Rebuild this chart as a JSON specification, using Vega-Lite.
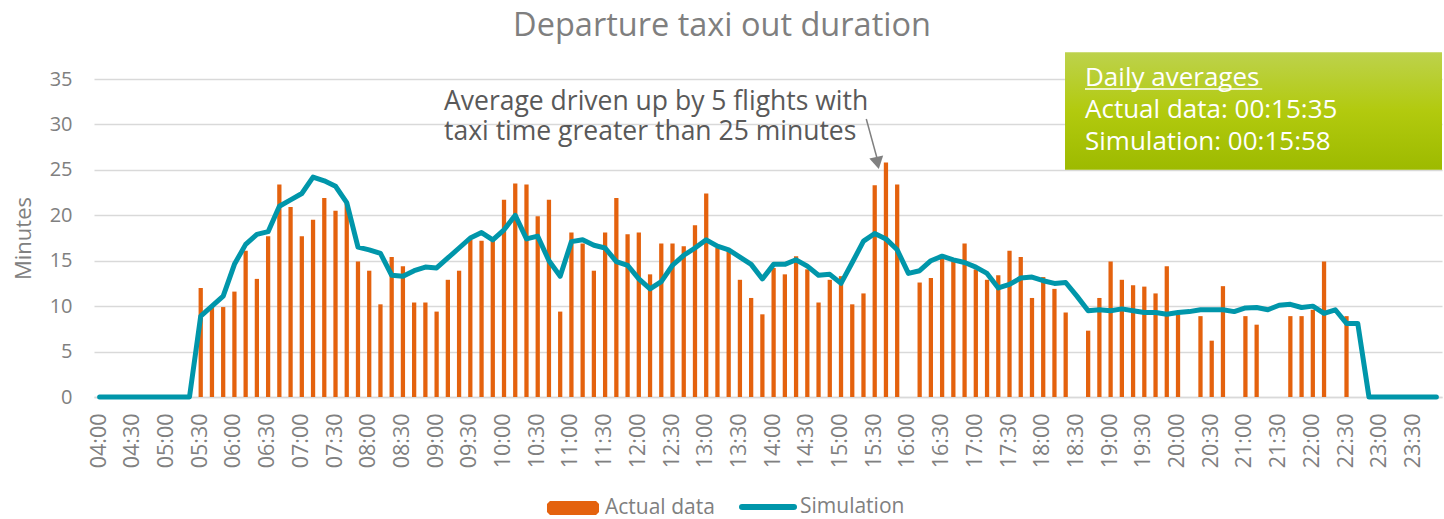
{
  "$schema": "https://vega.github.io/schema/vega-lite/v6.json",
  "width": 1348,
  "height": 318,
  "autosize": "none",
  "padding": {"left": 94, "top": 79, "right": 2, "bottom": 122},
  "background": "white",
  "title": {
    "text": "Departure taxi out duration",
    "fontSize": 32.5,
    "fontWeight": "normal",
    "color": "#7F7F7F",
    "anchor": "middle",
    "dx": -46,
    "offset": 10
  },
  "datasets": {
    "main": [
      {"time": "04:00", "actual": null, "sim": 0},
      {"time": "04:10", "actual": null, "sim": 0},
      {"time": "04:20", "actual": null, "sim": 0},
      {"time": "04:30", "actual": null, "sim": 0},
      {"time": "04:40", "actual": null, "sim": 0},
      {"time": "04:50", "actual": null, "sim": 0},
      {"time": "05:00", "actual": null, "sim": 0},
      {"time": "05:10", "actual": null, "sim": 0},
      {"time": "05:20", "actual": null, "sim": 0},
      {"time": "05:30", "actual": 12, "sim": 8.9},
      {"time": "05:40", "actual": 9.9, "sim": 10.0},
      {"time": "05:50", "actual": 9.9, "sim": 11.1},
      {"time": "06:00", "actual": 11.6, "sim": 14.6},
      {"time": "06:10", "actual": 16.1, "sim": 16.8},
      {"time": "06:20", "actual": 13.0, "sim": 17.9},
      {"time": "06:30", "actual": 17.7, "sim": 18.2},
      {"time": "06:40", "actual": 23.4, "sim": 21.0},
      {"time": "06:50", "actual": 20.9, "sim": 21.7},
      {"time": "07:00", "actual": 17.7, "sim": 22.4},
      {"time": "07:10", "actual": 19.5, "sim": 24.2},
      {"time": "07:20", "actual": 21.9, "sim": 23.8},
      {"time": "07:30", "actual": 20.5, "sim": 23.2},
      {"time": "07:40", "actual": 21.5, "sim": 21.4},
      {"time": "07:50", "actual": 14.9, "sim": 16.5},
      {"time": "08:00", "actual": 13.9, "sim": 16.2},
      {"time": "08:10", "actual": 10.2, "sim": 15.8},
      {"time": "08:20", "actual": 15.4, "sim": 13.4},
      {"time": "08:30", "actual": 14.4, "sim": 13.3},
      {"time": "08:40", "actual": 10.4, "sim": 13.9},
      {"time": "08:50", "actual": 10.4, "sim": 14.3},
      {"time": "09:00", "actual": 9.4, "sim": 14.2},
      {"time": "09:10", "actual": 12.9, "sim": 15.3},
      {"time": "09:20", "actual": 13.9, "sim": 16.4},
      {"time": "09:30", "actual": 17.3, "sim": 17.5},
      {"time": "09:40", "actual": 17.2, "sim": 18.1},
      {"time": "09:50", "actual": 17.3, "sim": 17.3},
      {"time": "10:00", "actual": 21.7, "sim": 18.4},
      {"time": "10:10", "actual": 23.5, "sim": 20.0},
      {"time": "10:20", "actual": 23.4, "sim": 17.4},
      {"time": "10:30", "actual": 19.9, "sim": 17.7},
      {"time": "10:40", "actual": 21.7, "sim": 15.0},
      {"time": "10:50", "actual": 9.4, "sim": 13.3},
      {"time": "11:00", "actual": 18.1, "sim": 17.1},
      {"time": "11:10", "actual": 16.9, "sim": 17.3},
      {"time": "11:20", "actual": 13.9, "sim": 16.7},
      {"time": "11:30", "actual": 18.1, "sim": 16.4},
      {"time": "11:40", "actual": 21.9, "sim": 14.9},
      {"time": "11:50", "actual": 17.9, "sim": 14.5},
      {"time": "12:00", "actual": 18.1, "sim": 13.0},
      {"time": "12:10", "actual": 13.5, "sim": 11.9},
      {"time": "12:20", "actual": 16.9, "sim": 12.7},
      {"time": "12:30", "actual": 16.9, "sim": 14.5},
      {"time": "12:40", "actual": 16.6, "sim": 15.6},
      {"time": "12:50", "actual": 18.9, "sim": 16.4},
      {"time": "13:00", "actual": 22.4, "sim": 17.3},
      {"time": "13:10", "actual": 16.4, "sim": 16.6},
      {"time": "13:20", "actual": 16.1, "sim": 16.2},
      {"time": "13:30", "actual": 12.9, "sim": 15.4},
      {"time": "13:40", "actual": 10.9, "sim": 14.6},
      {"time": "13:50", "actual": 9.1, "sim": 13.0},
      {"time": "14:00", "actual": 14.2, "sim": 14.6},
      {"time": "14:10", "actual": 13.5, "sim": 14.6},
      {"time": "14:20", "actual": 15.5, "sim": 15.1},
      {"time": "14:30", "actual": 14.05, "sim": 14.4},
      {"time": "14:40", "actual": 10.4, "sim": 13.4},
      {"time": "14:50", "actual": 12.9, "sim": 13.5},
      {"time": "15:00", "actual": 13.3, "sim": 12.5},
      {"time": "15:10", "actual": 10.2, "sim": 14.8},
      {"time": "15:20", "actual": 11.4, "sim": 17.15},
      {"time": "15:30", "actual": 23.3, "sim": 18.0},
      {"time": "15:40", "actual": 25.8, "sim": 17.4},
      {"time": "15:50", "actual": 23.4, "sim": 16.2},
      {"time": "16:00", "actual": null, "sim": 13.6},
      {"time": "16:10", "actual": 12.6, "sim": 13.9},
      {"time": "16:20", "actual": 13.1, "sim": 15.0},
      {"time": "16:30", "actual": 15.5, "sim": 15.5},
      {"time": "16:40", "actual": 15.0, "sim": 15.1},
      {"time": "16:50", "actual": 16.9, "sim": 14.8},
      {"time": "17:00", "actual": 14.05, "sim": 14.3},
      {"time": "17:10", "actual": 12.9, "sim": 13.6},
      {"time": "17:20", "actual": 13.4, "sim": 12.0},
      {"time": "17:30", "actual": 16.1, "sim": 12.4},
      {"time": "17:40", "actual": 15.4, "sim": 13.1},
      {"time": "17:50", "actual": 10.9, "sim": 13.2},
      {"time": "18:00", "actual": 13.2, "sim": 12.8},
      {"time": "18:10", "actual": 11.9, "sim": 12.5},
      {"time": "18:20", "actual": 9.3, "sim": 12.6},
      {"time": "18:30", "actual": null, "sim": 11.1},
      {"time": "18:40", "actual": 7.3, "sim": 9.5},
      {"time": "18:50", "actual": 10.9, "sim": 9.6},
      {"time": "19:00", "actual": 14.9, "sim": 9.5},
      {"time": "19:10", "actual": 12.9, "sim": 9.7},
      {"time": "19:20", "actual": 12.3, "sim": 9.5},
      {"time": "19:30", "actual": 12.15, "sim": 9.3},
      {"time": "19:40", "actual": 11.4, "sim": 9.3},
      {"time": "19:50", "actual": 14.4, "sim": 9.1},
      {"time": "20:00", "actual": 9.1, "sim": 9.3},
      {"time": "20:10", "actual": null, "sim": 9.4},
      {"time": "20:20", "actual": 8.9, "sim": 9.6},
      {"time": "20:30", "actual": 6.2, "sim": 9.6},
      {"time": "20:40", "actual": 12.2, "sim": 9.6},
      {"time": "20:50", "actual": null, "sim": 9.4},
      {"time": "21:00", "actual": 8.9, "sim": 9.8},
      {"time": "21:10", "actual": 7.96, "sim": 9.85},
      {"time": "21:20", "actual": null, "sim": 9.6},
      {"time": "21:30", "actual": null, "sim": 10.1},
      {"time": "21:40", "actual": 8.9, "sim": 10.2},
      {"time": "21:50", "actual": 8.9, "sim": 9.85},
      {"time": "22:00", "actual": 9.6, "sim": 10.0},
      {"time": "22:10", "actual": 14.9, "sim": 9.2},
      {"time": "22:20", "actual": null, "sim": 9.6},
      {"time": "22:30", "actual": 8.9, "sim": 8.1},
      {"time": "22:40", "actual": null, "sim": 8.1},
      {"time": "22:50", "actual": null, "sim": 0},
      {"time": "23:00", "actual": null, "sim": 0},
      {"time": "23:10", "actual": null, "sim": 0},
      {"time": "23:20", "actual": null, "sim": 0},
      {"time": "23:30", "actual": null, "sim": 0},
      {"time": "23:40", "actual": null, "sim": 0},
      {"time": "23:50", "actual": null, "sim": 0}
    ],
    "box": [{"x0": "18:20", "x1": "23:50", "y0": 37.95, "y1": 25.0}],
    "boxText": [
      {"t": "18:40", "v": 35.11, "label": "Daily averages"},
      {"t": "18:40", "v": 31.59, "label": "Actual data: 00:15:35"},
      {"t": "18:40", "v": 28.07, "label": "Simulation: 00:15:58"}
    ],
    "underline": [{"x0": "18:40", "x1": "21:20", "v": 33.9}],
    "note": [
      {"t": "09:10", "v": 32.5, "label": "Average driven up by 5 flights with"},
      {"t": "09:10", "v": 29.2, "label": "taxi time greater than 25 minutes"}
    ],
    "arrow": [{"x0": "15:20", "x1": "15:30", "v0": 30.6, "v1": 26.3}],
    "arrowHead": [{"t": "15:30", "v": 25.75}]
  },
  "layer": [
    {
      "data": {"name": "main"},
      "mark": {"type": "bar", "width": {"band": 0.38}, "color": "#E4620E"},
      "encoding": {
        "x": {
          "field": "time",
          "type": "ordinal",
          "scale": {"paddingInner": 0, "paddingOuter": 0},
          "axis": {
            "title": null,
            "labelAngle": 270,
            "labelExpr": "(slice(datum.value,3)=='00' || slice(datum.value,3)=='30') ? datum.value : ''",
            "labelOverlap": false,
            "labelPadding": 16,
            "labelFontSize": 21.5,
            "labelColor": "#808080",
            "ticks": false,
            "domain": true,
            "domainColor": "#D9D9D9",
            "domainWidth": 1.5,
            "grid": false
          }
        },
        "y": {
          "field": "actual",
          "type": "quantitative",
          "title": "Minutes",
          "scale": {"domain": [0, 35], "nice": false},
          "axis": {
            "values": [0, 5, 10, 15, 20, 25, 30, 35],
            "labelFontSize": 20,
            "labelColor": "#808080",
            "labelPadding": 22,
            "titleFontSize": 22,
            "titleColor": "#808080",
            "titleFontWeight": "normal",
            "titlePadding": 14,
            "ticks": false,
            "domain": false,
            "grid": true,
            "gridColor": "#D9D9D9",
            "gridWidth": 1.4
          }
        },
        "color": {
          "datum": "Actual data",
          "scale": {"domain": ["Actual data", "Simulation"], "range": ["#E4620E", "#0096AA"]},
          "legend": {
            "title": null,
            "orient": "none",
            "direction": "horizontal",
            "legendX": 450,
            "legendY": 402,
            "symbolSize": 2704,
            "symbolStrokeWidth": 6,
            "labelFontSize": 21,
            "labelColor": "#808080",
            "labelOffset": 3,
            "columnPadding": 24,
            "encode": {
              "symbols": {
                "update": {
                  "shape": {"signal": "datum.value === 'Simulation' ? 'M-1,0H1' : 'M-0.885,-0.154H0.885V0.154H-0.885Z'"},
                  "fill": {"signal": "datum.value === 'Simulation' ? 'transparent' : '#E4620E'"},
                  "stroke": {"signal": "datum.value === 'Simulation' ? '#0096AA' : '#E4620E'"},
                  "strokeWidth": {"value": 6},
                  "strokeCap": {"signal": "datum.value === 'Simulation' ? 'round' : 'square'"},
                  "strokeJoin": {"value": "bevel"},
                  "opacity": {"value": 1},
                  "y": {"signal": "datum.value === 'Simulation' ? 25 : 27"}
                }
              },
              "labels": {
                "update": {
                  "y": {"signal": "datum.value === 'Simulation' ? 25 : 27"},
                  "baseline": {"value": "middle"}
                }
              }
            }
          }
        }
      }
    },
    {
      "data": {"name": "main"},
      "mark": {"type": "line", "strokeWidth": 5, "strokeJoin": "round", "strokeCap": "round"},
      "encoding": {
        "x": {"field": "time", "type": "ordinal"},
        "y": {"field": "sim", "type": "quantitative", "title": "Minutes"},
        "color": {"datum": "Simulation"}
      }
    },
    {
      "data": {"name": "box"},
      "mark": {
        "type": "rect",
        "color": {
          "gradient": "linear",
          "x1": 0, "y1": 0, "x2": 0, "y2": 1,
          "stops": [
            {"offset": 0, "color": "#BDD24C"},
            {"offset": 0.5, "color": "#B2CA0E"},
            {"offset": 1, "color": "#9DBA00"}
          ]
        }
      },
      "encoding": {
        "x": {"field": "x0", "type": "ordinal", "bandPosition": 0.44},
        "x2": {"field": "x1", "bandPosition": 1},
        "y": {"field": "y0", "type": "quantitative", "title": "Minutes"},
        "y2": {"field": "y1"}
      }
    },
    {
      "data": {"name": "boxText"},
      "mark": {"type": "text", "align": "left", "baseline": "middle", "fontSize": 26, "color": "white"},
      "encoding": {
        "x": {"field": "t", "type": "ordinal", "bandPosition": 0.22},
        "y": {"field": "v", "type": "quantitative", "title": "Minutes"},
        "text": {"field": "label"}
      }
    },
    {
      "data": {"name": "underline"},
      "mark": {"type": "rule", "color": "white", "strokeWidth": 1.5},
      "encoding": {
        "x": {"field": "x0", "type": "ordinal", "bandPosition": 0.22},
        "x2": {"field": "x1", "bandPosition": 0},
        "y": {"field": "v", "type": "quantitative", "title": "Minutes"}
      }
    },
    {
      "data": {"name": "note"},
      "mark": {"type": "text", "align": "left", "baseline": "middle", "fontSize": 26.5, "color": "#595959"},
      "encoding": {
        "x": {"field": "t", "type": "ordinal", "bandPosition": 0.16},
        "y": {"field": "v", "type": "quantitative", "title": "Minutes"},
        "text": {"field": "label"}
      }
    },
    {
      "data": {"name": "arrow"},
      "mark": {"type": "rule", "color": "#808080", "strokeWidth": 1.5},
      "encoding": {
        "x": {"field": "x0", "type": "ordinal", "bandPosition": 0.75},
        "x2": {"field": "x1", "bandPosition": 0.7},
        "y": {"field": "v0", "type": "quantitative", "title": "Minutes"},
        "y2": {"field": "v1"}
      }
    },
    {
      "data": {"name": "arrowHead"},
      "mark": {"type": "point", "shape": "triangle-down", "filled": true, "color": "#808080", "size": 200, "angle": 348, "opacity": 1},
      "encoding": {
        "x": {"field": "t", "type": "ordinal", "bandPosition": 0.75},
        "y": {"field": "v", "type": "quantitative", "title": "Minutes"}
      }
    }
  ],
  "config": {
    "font": "Open Sans",
    "view": {"stroke": null}
  }
}
